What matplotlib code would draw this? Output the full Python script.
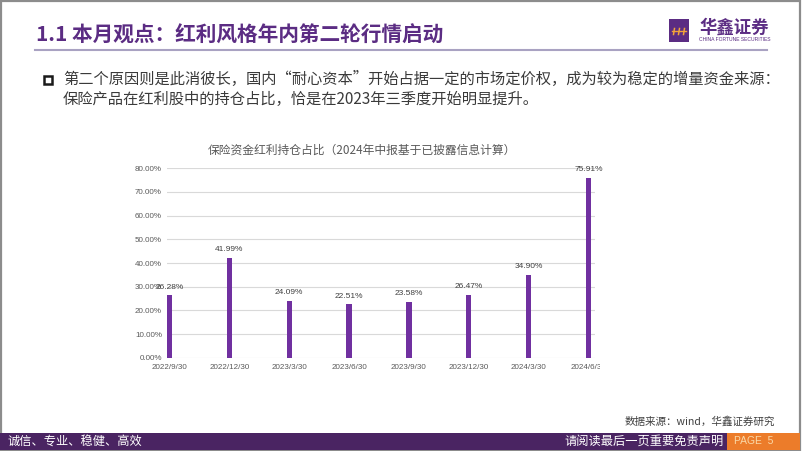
import matplotlib
matplotlib.use("Agg")
import matplotlib.pyplot as plt
from matplotlib.patches import Rectangle
from matplotlib.lines import Line2D
from matplotlib.transforms import Bbox, TransformedBbox
from matplotlib.ticker import FuncFormatter

# ---------------- data ----------------
categories = ["2022/9/30", "2022/12/30", "2023/3/30", "2023/6/30",
              "2023/9/30", "2023/12/30", "2024/3/30", "2024/6/30"]
shares = [26.28, 41.99, 24.09, 22.51, 23.58, 26.47, 34.90, 75.91]  # %
y_ticks = [0, 10, 20, 30, 40, 50, 60, 70, 80]

slide_title = "1.1 本月观点：红利风格年内第二轮行情启动"
bullet_line1 = "第二个原因则是此消彼长，国内“耐心资本”开始占据一定的市场定价权，成为较为稳定的增量资金来源："
bullet_line2 = "保险产品在红利股中的持仓占比，恰是在2023年三季度开始明显提升。"
chart_title = "保险资金红利持仓占比（2024年中报基于已披露信息计算）"
source_text = "数据来源：wind，华鑫证券研究"
footer_left = "诚信、专业、稳健、高效"
footer_right = "请阅读最后一页重要免责声明"
page_text = "PAGE  5"

# ---------------- style ----------------
W, H = 802, 451
CJK = ["Noto Sans CJK SC", "DejaVu Sans"]
LAT = ["Liberation Sans", "Noto Sans CJK SC", "DejaVu Sans"]
plt.rcParams["font.family"] = CJK
PURPLE = "#5B2C83"
BAR = "#7030A0"
FOOT = "#4A2462"
ORANGE = "#EC7C2A"

fig = plt.figure(figsize=(W / 100, H / 100), dpi=100)
fig.patch.set_facecolor("white")


def fx(x):
    return x / W


def fy(y):
    return 1 - y / H


def ftext(x, y, s, **kw):
    return fig.text(fx(x), fy(y), s, **kw)


# slide border
fig.add_artist(Rectangle((0.001, 0.002), 0.997, 0.996, transform=fig.transFigure,
                         fill=False, edgecolor="#8C8C8C", linewidth=1.6))

# header
ftext(36, 35, slide_title, fontsize=14.9, fontweight="bold", color=PURPLE,
      ha="left", va="center", family=CJK)
fig.add_artist(Line2D([fx(35), fx(767)], [fy(49.5), fy(49.5)], transform=fig.transFigure,
                      color="#A9A2C2", linewidth=1.5))

# logo
fig.add_artist(Rectangle((fx(669), fy(42)), fx(20), 23 / H, transform=fig.transFigure,
                         facecolor=PURPLE, edgecolor="none"))
for xx in (673.5, 678.5, 683.5):
    fig.add_artist(Line2D([fx(xx), fx(xx + 1)], [fy(34.5), fy(28.5)], transform=fig.transFigure,
                          color="#F2A33A", linewidth=1.1))
fig.add_artist(Line2D([fx(672), fx(686)], [fy(31), fy(31)], transform=fig.transFigure,
                      color="#F2A33A", linewidth=1.0))
ftext(699, 28, "华鑫证券", fontsize=12.5, color=PURPLE, ha="left", va="center",
      fontweight="bold", family=CJK)
ftext(699, 39.5, "CHINA FORTUNE SECURITIES", fontsize=3.6, color=PURPLE, ha="left",
      va="center", family=LAT)

# bullet text
fig.add_artist(Rectangle((fx(44), fy(84)), fx(8), 8 / H, transform=fig.transFigure,
                         fill=False, edgecolor="#1A1A1A", linewidth=1.8))
ftext(63, 79.5, bullet_line1, fontsize=11.0, color="#3A3A3A", ha="left", va="center", family=CJK)
ftext(63, 99.5, bullet_line2, fontsize=11.0, color="#3A3A3A", ha="left", va="center", family=CJK)

# chart title
ftext(362, 150, chart_title, fontsize=8.5, color="#595959", ha="center", va="center", family=CJK)

# ---------------- chart ----------------
ax_left, ax_right, ax_top, ax_bot = 166.7, 595, 168.3, 357.7
ax = fig.add_axes([fx(ax_left), fy(ax_bot), (ax_right - ax_left) / W, (ax_bot - ax_top) / H])
x = list(range(len(categories)))
ax.bar(x, shares, width=0.088, color=BAR, zorder=3)
ax.set_xlim(-0.048, 7.11)
ax.set_ylim(0, 80)
ax.set_yticks(y_ticks)
ax.yaxis.set_major_formatter(FuncFormatter(lambda v, p: f"{v:.2f}%"))
ax.set_xticks(x)
ax.set_xticklabels(categories)
ax.grid(axis="y", color="#D9D9D9", linewidth=0.8, zorder=0)
for s in ax.spines.values():
    s.set_visible(False)
ax.tick_params(axis="y", length=0, pad=3.4, labelsize=5.8, labelcolor="#595959")
ax.tick_params(axis="x", length=0, pad=4.3, labelsize=5.8, labelcolor="#595959")
for lab in ax.get_yticklabels() + ax.get_xticklabels():
    lab.set_family(LAT)
ax.set_facecolor("none")

for xi, v in zip(x, shares):
    ax.annotate(f"{v:.2f}%", (xi, v), xytext=(0, 6), textcoords="offset points",
                ha="center", va="center", fontsize=6.0, color="#404040", family=LAT,
                annotation_clip=False)

# clip x labels at the right edge of the pasted chart picture
clipbox = TransformedBbox(Bbox([[0, 0], [fx(600), 1]]), fig.transFigure)
for t in ax.xaxis.get_major_ticks():
    t.label1.set_clip_on(True)
    t.label1.set_clip_box(clipbox)

# source
ftext(775, 421.5, source_text, fontsize=7.6, color="#404040", ha="right", va="center", family=CJK)

# footer
fig.add_artist(Rectangle((0, fy(449.5)), fx(727), 16.5 / H, transform=fig.transFigure,
                         facecolor=FOOT, edgecolor="none"))
fig.add_artist(Rectangle((fx(727), fy(449.5)), fx(73), 16.5 / H, transform=fig.transFigure,
                         facecolor=ORANGE, edgecolor="none"))
ftext(8, 441.5, footer_left, fontsize=8.8, color="white", ha="left", va="center", family=CJK)
ftext(724, 441.5, footer_right, fontsize=8.8, color="white", ha="right", va="center", family=CJK)
ftext(734, 441.5, page_text, fontsize=7.4, color="#FAD9A8", ha="left", va="center", family=LAT)

fig.savefig("out.png", dpi=100, facecolor="white")
